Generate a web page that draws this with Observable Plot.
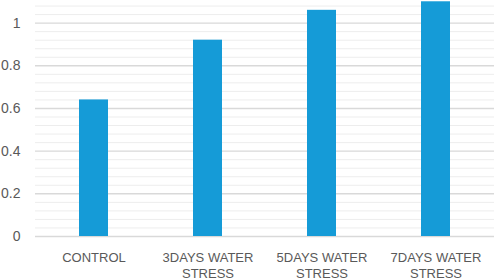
<!DOCTYPE html>
<html>
<head>
<meta charset="utf-8">
<script src="https://cdn.jsdelivr.net/npm/d3@7"></script>
<script src="https://cdn.jsdelivr.net/npm/@observablehq/plot@0.6"></script>
<style>
  html, body { margin: 0; padding: 0; background: #fff; }
</style>
</head>
<body>
<div id="chart"></div>
<script>
const categories = ["CONTROL", "3DAYS WATER STRESS", "5DAYS WATER STRESS", "7DAYS WATER STRESS"];
const tickLabels = ["CONTROL", "3DAYS WATER\nSTRESS", "5DAYS WATER\nSTRESS", "7DAYS WATER\nSTRESS"];
const values = [0.64, 0.92, 1.06, 1.10];
const majorTicks = [0, 0.2, 0.4, 0.6, 0.8, 1];
const minorTicks = [0.04, 0.08, 0.12, 0.16, 0.24, 0.28, 0.32, 0.36, 0.44, 0.48, 0.52, 0.56, 0.64, 0.68, 0.72, 0.76, 0.84, 0.88, 0.92, 0.96, 1.04, 1.08];

const data = categories.map((c, i) => ({category: c, value: values[i]}));
const labelOf = new Map(categories.map((c, i) => [c, tickLabels[i]]));

const chart = Plot.plot({
  width: 494,
  height: 279,
  marginTop: 0,
  marginBottom: 43,
  marginLeft: 35,
  marginRight: 0,
  style: {fontFamily: "'Liberation Sans', Arial, sans-serif", fontSize: "13px", color: "#595959", background: "#fff"},
  x: {domain: categories, paddingInner: 0.75, paddingOuter: 0.375, align: 0.5},
  y: {domain: [0, 1.106]},
  marks: [
    Plot.ruleY(minorTicks, {stroke: "#ededed", strokeWidth: 1}),
    Plot.ruleY(majorTicks, {stroke: "#d9d9d9", strokeWidth: 1.4}),
    Plot.barY(data, {x: "category", y: "value", fill: "#159bd7"}),
    Plot.axisY(majorTicks, {tickSize: 0, tickPadding: 15, label: null, tickFormat: d => String(d), fontSize: 14, fill: "#595959"}),
    Plot.axisX({tickSize: 0, tickPadding: 14, label: null, tickFormat: d => labelOf.get(d), lineHeight: 1.25, fontSize: 13, fill: "#595959"})
  ]
});
document.getElementById("chart").appendChild(chart);
</script>
</body>
</html>
